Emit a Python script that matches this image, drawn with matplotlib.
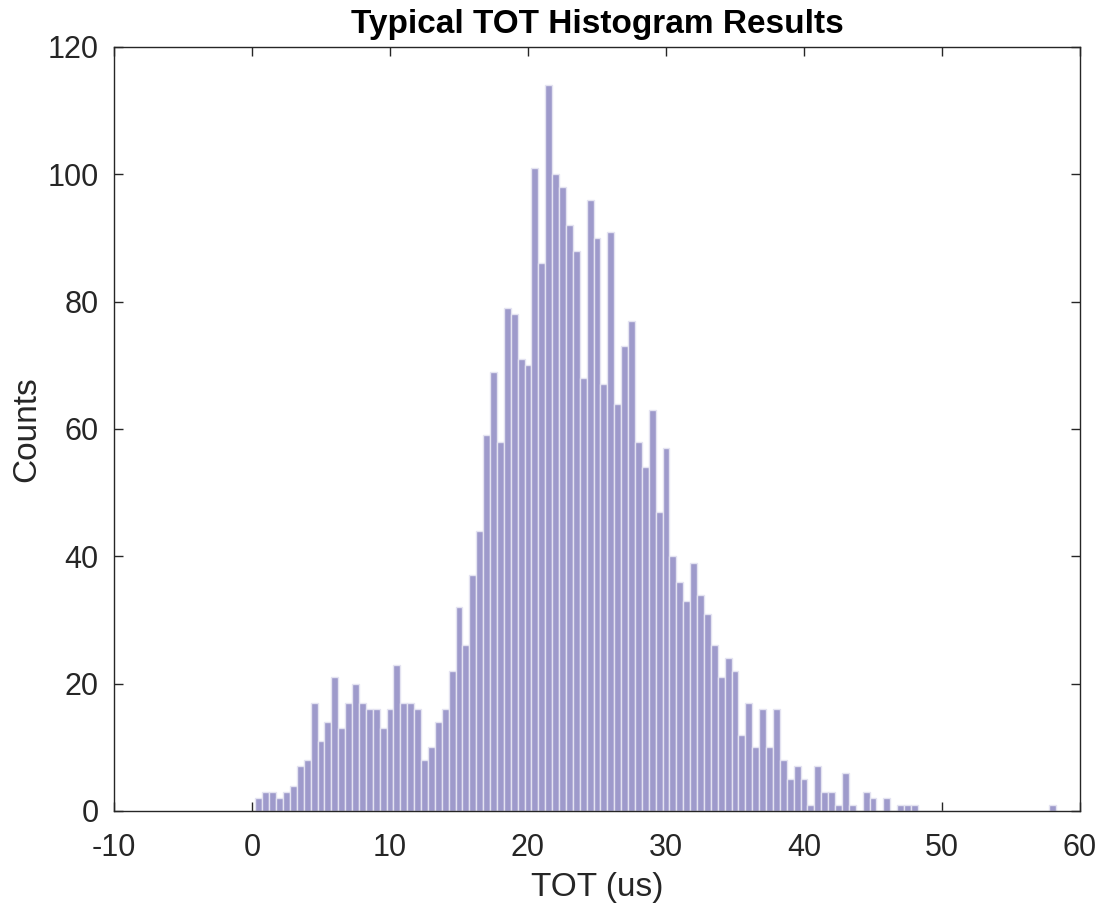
import numpy as np
import matplotlib
matplotlib.use("Agg")
import matplotlib.pyplot as plt

plt.rcParams['font.family'] = ['Liberation Sans', 'DejaVu Sans']
plt.rcParams['axes.unicode_minus'] = False

# Histogram data: bin width 0.5, first bin [0.25, 0.75]
bin_start = 0.25
bin_width = 0.5
counts = [
    2, 3, 3, 2, 3, 4, 7, 8, 17, 11,          # 0.5 - 5.0
    14, 21, 13, 17, 20, 17, 16, 16, 13, 16,  # 5.5 - 10.0
    23, 17, 17, 16, 8, 10, 14, 16, 22, 32,   # 10.5 - 15.0
    26, 37, 44, 59, 69, 58, 79, 78, 71, 70,  # 15.5 - 20.0
    101, 86, 114, 100, 98, 92, 88, 68, 96, 90,  # 20.5 - 25.0
    67, 91, 64, 73, 77, 58, 54, 63, 47, 57,  # 25.5 - 30.0
    40, 36, 33, 39, 34, 31, 26, 21, 24, 22,  # 30.5 - 35.0
    12, 17, 10, 16, 10, 16, 8, 5, 7, 5,      # 35.5 - 40.0
    1, 7, 3, 3, 1, 6, 1, 0, 3, 2,            # 40.5 - 45.0
    0, 2, 0, 1, 1, 1, 0, 0, 0, 0,            # 45.5 - 50.0
    0, 0, 0, 0, 0, 0, 0, 0, 0, 0,            # 50.5 - 55.0
    0, 0, 0, 0, 0, 1,                        # 55.5 - 58.0
]
xticks = [-10, 0, 10, 20, 30, 40, 50, 60]
yticks = [0, 20, 40, 60, 80, 100, 120]
title = "Typical TOT Histogram Results"
xlabel = "TOT (us)"
ylabel = "Counts"

edges = bin_start + bin_width * np.arange(len(counts) + 1)
centers = (edges[:-1] + edges[1:]) / 2

fig = plt.figure(figsize=(10.99, 9.07), dpi=100)
ax = fig.add_axes([114/1099, 1 - 811/907, (1080-114)/1099, (811-47)/907])

ax.bar(centers, counts, width=bin_width, color='#9e9acb',
       edgecolor='#e4e3f1', linewidth=1.0, zorder=2)

ax.set_xlim(-10, 60)
ax.set_ylim(0, 120)
ax.set_xticks(xticks)
ax.set_yticks(yticks)

dark = '#262626'
for s in ax.spines.values():
    s.set_color(dark)
    s.set_linewidth(1.0)
ax.tick_params(direction='in', length=6.5, width=1.0, color=dark,
               labelcolor=dark, labelsize=22, top=True, right=True)
ax.tick_params(axis='x', pad=16)
ax.tick_params(axis='y', pad=11)

ax.set_title(title, fontsize=24, fontweight='bold', color='black', pad=10)
ax.set_xlabel(xlabel, fontsize=24, color=dark, labelpad=6)
ax.set_ylabel(ylabel, fontsize=24, color=dark, labelpad=4)

fig.savefig("out.png", dpi=100, facecolor='white')
